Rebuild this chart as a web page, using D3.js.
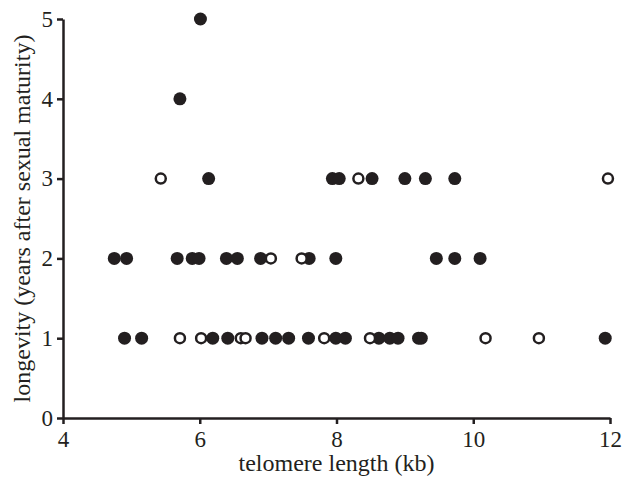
<!DOCTYPE html>
<html>
<head>
<meta charset="utf-8">
<script src="https://cdn.jsdelivr.net/npm/d3@7"></script>
<style>
  body { margin: 0; background: #fff; }
  svg text { font-family: "Liberation Serif", "DejaVu Serif", serif; fill: #231f20; }
</style>
</head>
<body>
<div class="chart"></div>
<script>
'use strict';

// telomere length (kb) and longevity (years), filled = 1, open = 0
var telomere = [
  4.90, 5.15, 5.71, 6.02, 6.19, 6.41, 6.60, 6.67, 6.91, 7.11, 7.30, 7.59, 7.82, 7.99, 8.13,
  8.49, 8.62, 8.78, 8.90, 9.20, 9.24, 10.18, 10.96, 11.93,
  4.75, 4.93, 5.67, 5.89, 5.99, 6.39, 6.55, 6.89, 7.04, 7.49, 7.60, 7.99, 9.46, 9.73, 10.10,
  5.43, 6.13, 7.94, 8.04, 8.32, 8.52, 9.00, 9.30, 9.73, 11.97,
  5.71, 6.01
];
var longevity = [
  1, 1, 1, 1, 1, 1, 1, 1, 1, 1, 1, 1, 1, 1, 1,
  1, 1, 1, 1, 1, 1, 1, 1, 1,
  2, 2, 2, 2, 2, 2, 2, 2, 2, 2, 2, 2, 2, 2, 2,
  3, 3, 3, 3, 3, 3, 3, 3, 3, 3,
  4, 5
];
var filled = [
  1, 1, 0, 0, 1, 1, 0, 0, 1, 1, 1, 1, 0, 1, 1,
  0, 1, 1, 1, 1, 1, 0, 0, 1,
  1, 1, 1, 1, 1, 1, 1, 1, 0, 0, 1, 1, 1, 1, 1,
  0, 1, 1, 1, 0, 1, 1, 1, 1, 0,
  1, 1
];
var xTicks = [4, 6, 8, 10, 12];
var yTicks = [0, 1, 2, 3, 4, 5];

var width = 633,
    height = 481,
    margin = { top: 19, right: 23, bottom: 63, left: 63 },
    x = d3.scaleLinear().domain([4, 12]).range([margin.left, width - margin.right]),
    y = d3.scaleLinear().domain([0, 5]).range([height - margin.bottom, margin.top]),
    ink = '#231f20';

var svg = d3.select('.chart').append('svg').attr('width', width).attr('height', height);

var points = telomere.map(function (t, i) {
  return { t: t, l: longevity[i], f: filled[i] };
});

// filled dots first, open ones on top
svg.append('g').selectAll('circle')
  .data(points.filter(function (d) { return d.f; }))
  .enter().append('circle')
  .attr('cx', function (d) { return x(d.t); })
  .attr('cy', function (d) { return y(d.l); })
  .attr('r', 6.5)
  .attr('fill', ink);

svg.append('g').selectAll('circle')
  .data(points.filter(function (d) { return !d.f; }))
  .enter().append('circle')
  .attr('cx', function (d) { return x(d.t); })
  .attr('cy', function (d) { return y(d.l); })
  .attr('r', 5)
  .attr('fill', '#fff')
  .attr('stroke', ink)
  .attr('stroke-width', 2.5);

var xAxis = svg.append('g')
  .attr('transform', 'translate(0,' + y(0) + ')')
  .call(d3.axisBottom(x).tickValues(xTicks).tickFormat(d3.format('d'))
    .tickSize(6).tickSizeOuter(0).tickPadding(7));

var yAxis = svg.append('g')
  .attr('transform', 'translate(' + x(4) + ',0)')
  .call(d3.axisLeft(y).tickValues(yTicks).tickFormat(d3.format('d'))
    .tickSize(6).tickSizeOuter(0).tickPadding(4));

[xAxis, yAxis].forEach(function (g) {
  g.attr('font-size', null).attr('font-family', null);
  g.select('.domain').attr('stroke', ink).attr('stroke-width', 2.5);
  g.selectAll('.tick line').attr('stroke', ink).attr('stroke-width', 2.5);
  g.selectAll('.tick text').style('font-size', '23px').attr('fill', ink);
});

svg.append('text')
  .attr('x', (x(4) + x(12)) / 2)
  .attr('y', 471)
  .attr('text-anchor', 'middle')
  .style('font-size', '24px')
  .text('telomere length (kb)');

svg.append('text')
  .attr('transform', 'translate(30,' + (y(0) + y(5)) / 2 + ') rotate(-90)')
  .attr('text-anchor', 'middle')
  .style('font-size', '24px')
  .text('longevity (years after sexual maturity)');
</script>
</body>
</html>
